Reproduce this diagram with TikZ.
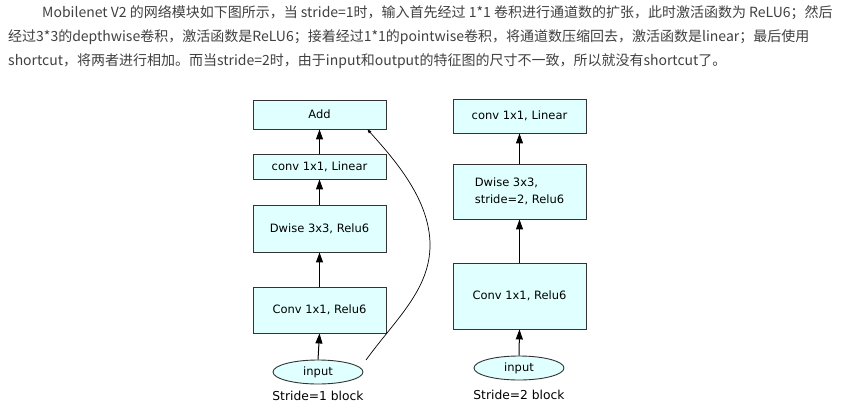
\documentclass[tikz,border=0pt]{standalone}
\usepackage{fontspec}
\setmainfont{DejaVu Sans}
\newfontfamily\cjkfont{Noto Sans CJK SC}
\usetikzlibrary{arrows.meta,shapes.geometric,calc}
\definecolor{boxfill}{HTML}{E0FFFF}
\definecolor{boxline}{HTML}{333333}
\definecolor{txtgray}{HTML}{404040}
\begin{document}
\begin{tikzpicture}[x=1pt,y=-1pt,
  blk/.style={draw=boxline,fill=boxfill,line width=0.9pt,minimum width=133pt,inner sep=0pt,
    font=\fontsize{11.5}{17}\selectfont},
  inp/.style={ellipse,draw=boxline,fill=boxfill,line width=0.9pt,minimum width=90pt,
    minimum height=24pt,inner sep=0pt,font=\fontsize{11.5}{14}\selectfont},
  arr/.style={-{Triangle[length=10pt,width=7pt]},line width=1pt},
  thinarr/.style={-{Triangle[length=4pt,width=3pt]},line width=0.7pt},
  para/.style={anchor=base west,inner sep=0pt,text=txtgray,font=\cjkfont\fontsize{14}{16}\selectfont},
  blocklabel/.style={inner sep=0pt,font=\fontsize{12.3}{14}\selectfont}
]
\useasboundingbox (0,0) rectangle (843,412);

% paragraph
\node[para] (p1) at (42,18) {Mobilenet V2 的网络模块如下图所示，当 stride=1时，输入首先经过 1*1 卷积进行通道数的扩张，此时激活函数为 ReLU6；然后};
\node[para] (p2) at (8,42) {经过3*3的depthwise卷积，激活函数是ReLU6；接着经过1*1的pointwise卷积，将通道数压缩回去，激活函数是linear；最后使用};
\node[para] (p3) at (8,66) {shortcut，将两者进行相加。而当stride=2时，由于input和output的特征图的尺寸不一致，所以就没有shortcut了。};

% stride 1
\node[blk,minimum height=29pt] (add) at (319.5,114.5) {Add};
\node[blk,minimum height=25pt] (lin1) at (319.5,166.5) {conv 1x1, Linear};
\node[blk,minimum height=47pt] (dw1) at (319.5,228.5) {Dwise 3x3, Relu6};
\node[blk,minimum height=46pt] (pw1) at (319.5,310) {Conv 1x1, Relu6};
\node[inp] (in1) at (318,372) {input};
\node[blocklabel] (lab1) at (318,396) {Stride=1 block};
\coordinate (s1) at (366,360);
\coordinate (m1) at (430,245);
\coordinate (e1) at ($(add.south east)+(-19,0)$);

\draw[arr] (in1.north) -- (pw1.south);
\draw[arr] (pw1.north) -- (dw1.south);
\draw[arr] (dw1.north) -- (lin1.south);
\draw[arr] (lin1.north) -- (add.south);
\draw[thinarr] (s1) .. controls (395,320) and (430,290) .. (m1)
  .. controls (430,200) and (395,160) .. (e1);

% stride 2
\node[blk,minimum height=34pt] (lin2) at (519.5,116) {conv 1x1, Linear};
\node[blk,minimum height=55pt,align=left] (dw2) at (519.5,191.5) {Dwise 3x3,\\stride=2, Relu6};
\node[blk,minimum height=66pt] (pw2) at (519.5,296) {Conv 1x1, Relu6};
\node[inp] (in2) at (519,368) {input};
\node[blocklabel] (lab2) at (519,395) {Stride=2 block};

\draw[arr] (in2.north) -- (pw2.south);
\draw[arr] (pw2.north) -- (dw2.south);
\draw[arr] (dw2.north) -- (lin2.south);
\end{tikzpicture}
\end{document}
